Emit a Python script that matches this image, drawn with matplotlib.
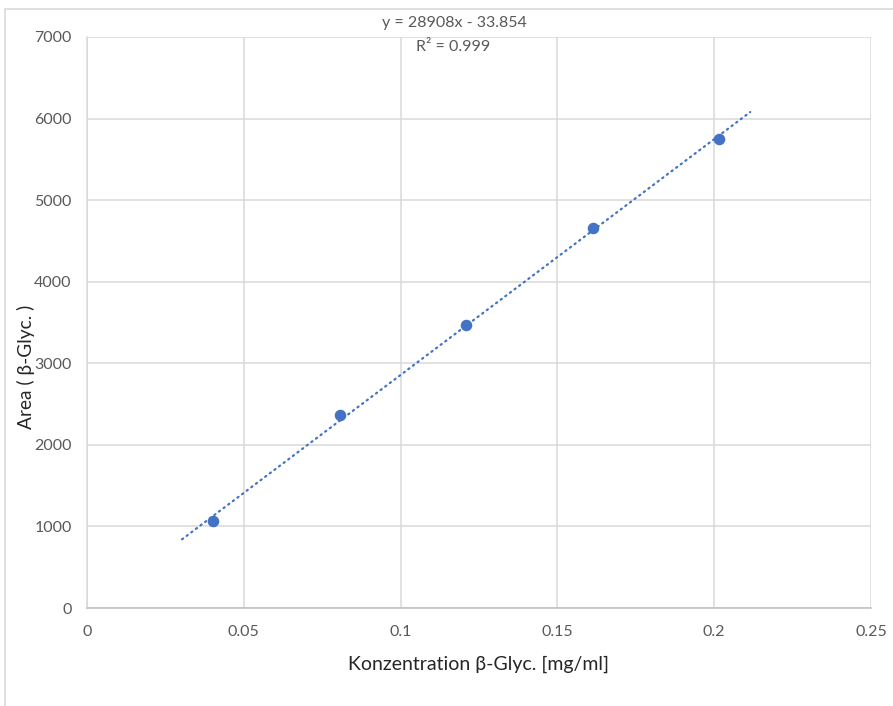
import matplotlib.pyplot as plt
from matplotlib.patches import Rectangle

# calibration standards
conc = [0.0403, 0.0806, 0.1209, 0.1612, 0.2015]
area = [1066, 2365, 3468, 4657, 5747]

# linear trendline as reported
slope = 28908
intercept = -33.854
r_squared = 0.999
trend_x = [0.0303, 0.2115]

x_ticks = [0, 0.05, 0.1, 0.15, 0.2, 0.25]
x_tick_labels = ['0', '0.05', '0.1', '0.15', '0.2', '0.25']
y_ticks = [0, 1000, 2000, 3000, 4000, 5000, 6000, 7000]

blue = '#4472C4'
grid_col = '#d9d9d9'
text_col = '#595959'

plt.rcParams['font.family'] = ['Lato', 'DejaVu Sans']

fig = plt.figure(figsize=(8.93, 7.06), dpi=100)
ax = fig.add_axes([87 / 893, 1 - 608 / 706, 784 / 893, 571 / 706])

# chart area border
fig.patches.append(Rectangle((5 / 893, -0.1), 1.2, 1.1 - 9 / 706,
                             transform=fig.transFigure, fill=False,
                             edgecolor=grid_col, linewidth=1.2))

ax.set_xlim(0, 0.25)
ax.set_ylim(0, 7000)
ax.set_xticks(x_ticks)
ax.set_xticklabels(x_tick_labels)
ax.set_yticks(y_ticks)
ax.grid(True, color=grid_col, linewidth=1.1)
ax.set_axisbelow(True)
for side in ['top', 'right']:
    ax.spines[side].set_visible(False)
ax.spines['left'].set_color(grid_col)
ax.spines['bottom'].set_color('#bfbfbf')
ax.spines['left'].set_linewidth(1.1)
ax.spines['bottom'].set_linewidth(1.1)
ax.tick_params(length=0, labelsize=11.5, labelcolor=text_col)
ax.tick_params(axis='x', pad=12)
ax.tick_params(axis='y', pad=11)

ty = [slope * x + intercept for x in trend_x]
ax.plot(trend_x, ty, color=blue, linewidth=1.6, linestyle=(0, (0.6, 2.0)),
        dash_capstyle='round', zorder=2)
ax.plot(conc, area, 'o', color=blue, markersize=7.3, zorder=3)

ax.set_xlabel('Konzentration β-Glyc. [mg/ml]', fontsize=14, labelpad=12,
              color='#262626')
fig.text(26 / 893, 1 - 367 / 706, 'Area ( β-Glyc. )', rotation=90,
         ha='center', va='center', fontsize=13.8, color='#262626')

fig.text(454 / 893, 1 - 23 / 706, f'y = {slope}x - {abs(intercept)}',
         ha='center', va='center', fontsize=11.5, color=text_col)
fig.text(453 / 893, 1 - 47 / 706, f'R² = {r_squared}',
         ha='center', va='center', fontsize=11.5, color=text_col)

fig.savefig('out.png', dpi=100)
